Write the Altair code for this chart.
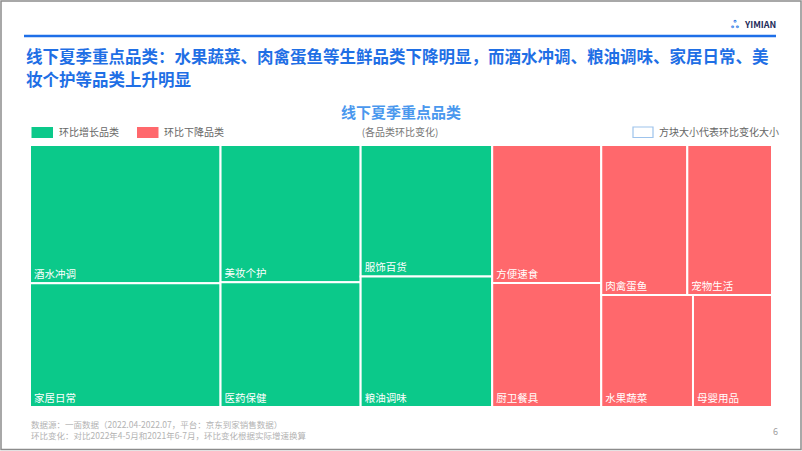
import altair as alt
import pandas as pd

# ---------------- data ----------------
categories = ["酒水冲调", "家居日常", "美妆个护", "医药保健", "服饰百货", "粮油调味",
              "方便速食", "厨卫餐具", "肉禽蛋鱼", "宠物生活", "水果蔬菜", "母婴用品"]
groups = ["环比增长品类"] * 6 + ["环比下降品类"] * 6
change_size = [25.9, 23.2, 18.9, 17.2, 17.0, 16.9,
               14.8, 13.3, 12.7, 12.5, 10.1, 8.7]
group_order = ["环比增长品类", "环比下降品类"]
group_colors = ["#0BC98A", "#FF686C"]

FONT = "Noto Sans CJK SC"
W, H = 802, 451
BOX = (30, 145, 772, 407)  # treemap area


# ---------------- squarified treemap layout ----------------
def worst(row, side):
    s = sum(row)
    return max(side * side * max(row) / (s * s), (s * s) / (side * side * min(row)))


def squarify(vals, x, y, w, h):
    total = sum(vals)
    areas = [v * w * h / total for v in vals]
    rects = []
    while areas:
        side = min(w, h)
        row = [areas[0]]
        i = 1
        while i < len(areas) and worst(row + [areas[i]], side) <= worst(row, side):
            row.append(areas[i])
            i += 1
        s = sum(row)
        if w >= h:
            rw = s / h
            cy = y
            for a in row:
                rh = a / rw
                rects.append((x, cy, x + rw, cy + rh))
                cy += rh
            x += rw
            w -= rw
        else:
            rh = s / w
            cx = x
            for a in row:
                rw = a / rh
                rects.append((cx, y, cx + rw, y + rh))
                cx += rw
            y += rh
            h -= rh
        areas = areas[i:]
    return rects


df = pd.DataFrame({"name": categories, "group": groups, "value": change_size})
gsum = [df[df.group == g].value.sum() for g in group_order]
x0, y0, x1, y1 = BOX
grects = squarify(gsum, x0, y0, x1 - x0, y1 - y0)
rows = []
for g, (gx0, gy0, gx1, gy1) in zip(group_order, grects):
    sub = df[df.group == g].sort_values("value", ascending=False)
    rs = squarify(list(sub.value), gx0, gy0, gx1 - gx0, gy1 - gy0)
    for (_, r), (a, b, c, d) in zip(sub.iterrows(), rs):
        rows.append({"name": r["name"], "group": g, "value": r["value"],
                     "x0": a, "y0": b, "x1": c, "y1": d,
                     "lx": a + 4, "ly": d - 8})
tm = pd.DataFrame(rows)

xs = alt.Scale(domain=[0, W], range=[0, W], nice=False, zero=False)
ys = alt.Scale(domain=[0, H], range=[0, H], nice=False, zero=False)
color = alt.Color("group:N", scale=alt.Scale(domain=group_order, range=group_colors), legend=None)

cells = alt.Chart(tm).mark_rect(stroke="white", strokeWidth=2).encode(
    x=alt.X("x0:Q", scale=xs, axis=None),
    x2="x1:Q",
    y=alt.Y("y0:Q", scale=ys, axis=None),
    y2="y1:Q",
    color=color,
)
labels = alt.Chart(tm).mark_text(
    align="left", baseline="middle", color="white", font=FONT, fontSize=10.5
).encode(
    x=alt.X("lx:Q", scale=xs, axis=None),
    y=alt.Y("ly:Q", scale=ys, axis=None),
    text="name:N",
)

one = pd.DataFrame({"k": [0]})


def txt(s, x, y, size, col, weight="normal", align="left"):
    return alt.Chart(one).mark_text(
        text=s, align=align, baseline="middle", font=FONT, fontSize=size,
        color=col, fontWeight=weight
    ).encode(x=alt.value(x), y=alt.value(y))


def box(xa, ya, xb, yb, fill=None, stroke=None, sw=1):
    kw = {}
    if fill:
        kw["fill"] = fill
    else:
        kw["fillOpacity"] = 0
    if stroke:
        kw["stroke"] = stroke
        kw["strokeWidth"] = sw
    return alt.Chart(one).mark_rect(**kw).encode(
        x=alt.value(xa), x2=alt.value(xb), y=alt.value(ya), y2=alt.value(yb))


frame = box(1, 1, 801, 449.5, stroke="#8c8c8c", sw=1.5)
topline = alt.Chart(one).mark_rule(color="#1E6FE8", strokeWidth=2.5).encode(
    x=alt.value(24), x2=alt.value(776), y=alt.value(36))
logo_icon = txt("ஃ", 731, 25, 10, "#2E7BE6", "bold")
logo_txt = txt("YIMIAN", 745, 24.5, 9, "#1F2D5A", "bold")

title1 = txt("线下夏季重点品类：水果蔬菜、肉禽蛋鱼等生鲜品类下降明显，而酒水冲调、粮油调味、家居日常、美",
             26, 58, 16.5, "#1F6FE5", "bold")
title2 = txt("妆个护等品类上升明显", 26, 81, 16.5, "#1F6FE5", "bold")

ctitle = txt("线下夏季重点品类", 401, 113, 15, "#4A98EE", "bold", "center")
csub = txt("(各品类环比变化)", 400, 133, 10, "#777777", "normal", "center")

leg_g = box(31.5, 127, 53, 138, fill=group_colors[0])
leg_g_t = txt("环比增长品类", 59, 132.5, 10, "#666666")
leg_r = box(137, 127, 158.5, 138, fill=group_colors[1])
leg_r_t = txt("环比下降品类", 164, 132.5, 10, "#666666")
leg_s = box(633, 127, 653, 137.5, stroke="#9DC3EC", sw=1.2)
leg_s_t = txt("方块大小代表环比变化大小", 659, 132.5, 10, "#666666")

foot1 = txt("数据源：一面数据（2022.04-2022.07，平台：京东到家销售数据）", 31, 424.5, 8.5, "#b3b3b3")
foot2 = txt("环比变化：对比2022年4-5月和2021年6-7月，环比变化根据实际增速换算", 31, 436, 8.5, "#b3b3b3")
pnum = txt("6", 773, 432, 9, "#a0a0a0")

chart = alt.layer(
    cells, labels, frame, topline, logo_icon, logo_txt, title1, title2,
    ctitle, csub, leg_g, leg_g_t, leg_r, leg_r_t, leg_s, leg_s_t,
    foot1, foot2, pnum
).properties(
    width=W, height=H, padding=0, autosize="none", background="white"
).configure_view(stroke=None)

chart.save("out.html", embed_options={"renderer": "svg", "actions": False})
